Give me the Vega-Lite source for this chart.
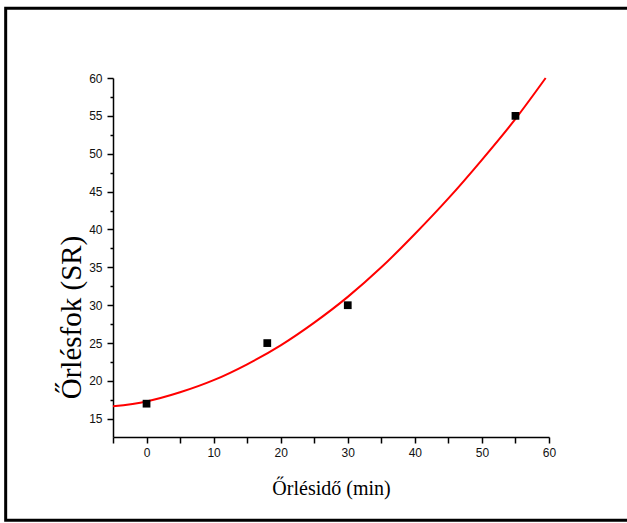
{
  "$schema": "https://vega.github.io/schema/vega-lite/v6.json",
  "width": 436,
  "height": 359,
  "autosize": {"type": "none"},
  "padding": {"left": 113, "top": 78, "right": 78, "bottom": 86},
  "background": "white",
  "config": {
    "view": {"stroke": null},
    "axis": {
      "domainColor": "black", "domainWidth": 1.5,
      "tickColor": "black", "tickWidth": 1.5,
      "labelFont": "Liberation Sans", "labelFontSize": 12, "labelColor": "#111",
      "titleFont": "Liberation Serif", "titleFontWeight": "normal", "titleColor": "black",
      "grid": false
    }
  },
  "datasets": {
    "points": [
      {"t": 0, "sr": 17},
      {"t": 18, "sr": 25},
      {"t": 30, "sr": 30},
      {"t": 55, "sr": 55}
    ],
    "fit": [
      {"t": -5, "sr": 16.65},
      {"t": 0, "sr": 17.3},
      {"t": 5, "sr": 18.5},
      {"t": 10, "sr": 20.1},
      {"t": 15, "sr": 22.2},
      {"t": 20, "sr": 24.7},
      {"t": 25, "sr": 27.7},
      {"t": 30, "sr": 31.1},
      {"t": 35, "sr": 35.0},
      {"t": 40, "sr": 39.4},
      {"t": 45, "sr": 44.1},
      {"t": 50, "sr": 49.2},
      {"t": 55, "sr": 54.6},
      {"t": 59.5, "sr": 60.0}
    ],
    "frame": [
      {"x0": -21, "x1": 75, "y0": 1.6, "y1": 69.2}
    ]
  },
  "resolve": {"axis": {"x": "independent", "y": "independent"}},
  "layer": [
    {
      "data": {"name": "frame"},
      "mark": {"type": "rect", "fill": null, "stroke": "black", "strokeWidth": 3, "clip": false},
      "encoding": {
        "x": {"field": "x0", "type": "quantitative", "scale": {"domain": [-5, 60], "nice": false, "zero": false}, "axis": null},
        "x2": {"field": "x1"},
        "y": {"field": "y0", "type": "quantitative", "scale": {"domain": [12.6, 60], "nice": false, "zero": false}, "axis": null},
        "y2": {"field": "y1"}
      }
    },
    {
      "data": {"name": "fit"},
      "mark": {"type": "line", "color": "#ff0000", "strokeWidth": 2, "interpolate": "monotone"},
      "encoding": {
        "x": {
          "field": "t", "type": "quantitative",
          "scale": {"domain": [-5, 60], "nice": false, "zero": false},
          "axis": {
            "orient": "bottom",
            "title": "Őrlésidő (min)",
            "titleFontSize": 20,
            "titleBaseline": "alphabetic",
            "titleY": 57,
            "values": [-5, 0, 5, 10, 15, 20, 25, 30, 35, 40, 45, 50, 55, 60],
            "labelExpr": "datum.value % 10 === 0 ? datum.label : ''",
            "tickSize": 6,
            "labelPadding": 4,
            "labelFlush": false,
            "labelOverlap": false
          }
        },
        "y": {
          "field": "sr", "type": "quantitative",
          "scale": {"domain": [12.6, 60], "nice": false, "zero": false},
          "axis": {
            "orient": "left",
            "title": "Őrlésfok (SR)",
            "titleFontSize": 29,
            "titleBaseline": "middle",
            "titleX": -42,
            "titleY": 239,
            "titleAngle": -90,
            "values": [15, 20, 25, 30, 35, 40, 45, 50, 55, 60],
            "tickSize": 6,
            "labelPadding": 5,
            "labelFlush": false,
            "labelOverlap": false
          }
        }
      }
    },
    {
      "data": {"name": "points"},
      "mark": {"type": "point", "shape": "square", "filled": true, "color": "black", "size": 60, "opacity": 1},
      "encoding": {
        "x": {"field": "t", "type": "quantitative", "scale": {"domain": [-5, 60], "nice": false, "zero": false}, "axis": null},
        "y": {
          "field": "sr", "type": "quantitative",
          "scale": {"domain": [12.6, 60], "nice": false, "zero": false},
          "axis": {
            "orient": "left",
            "title": null,
            "domain": false,
            "labels": false,
            "values": [17.5, 22.5, 27.5, 32.5, 37.5, 42.5, 47.5, 52.5, 57.5],
            "tickSize": 3
          }
        }
      }
    }
  ]
}
